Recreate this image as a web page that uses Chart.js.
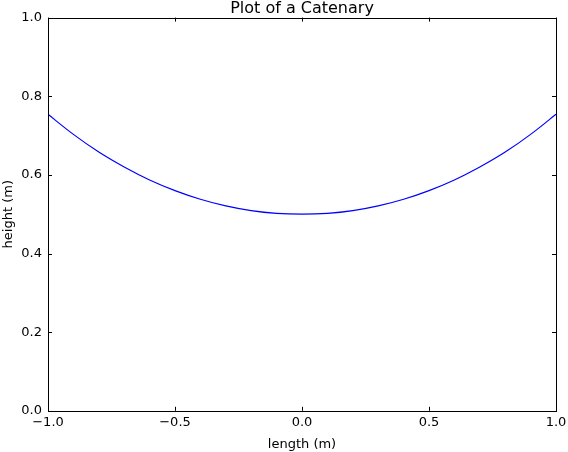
<!DOCTYPE html>
<html>
<head>
<meta charset="utf-8">
<script src="https://cdn.jsdelivr.net/npm/chart.js@4"></script>
<style>
  html, body { margin: 0; padding: 0; background: #fff; }
  #wrap { width: 568px; height: 452px; }
</style>
</head>
<body>
<div id="wrap"><canvas id="catenary-chart"></canvas></div>
<script>
// values
const lengthValues = [-1.0, -0.9, -0.8, -0.7, -0.6, -0.5, -0.4, -0.3, -0.2, -0.1, 0.0,
  0.1, 0.2, 0.3, 0.4, 0.5, 0.6, 0.7, 0.8, 0.9, 1.0];
const heightValues = [0.754, 0.703, 0.658, 0.620, 0.587, 0.560, 0.538, 0.521, 0.509, 0.502, 0.500,
  0.502, 0.509, 0.521, 0.538, 0.560, 0.587, 0.620, 0.658, 0.703, 0.754];
const xTicks = [-1.0, -0.5, 0.0, 0.5, 1.0];
const yTicks = [0.0, 0.2, 0.4, 0.6, 0.8, 1.0];

const fontFamily = "'DejaVu Sans', sans-serif";
const fmt = (v) => v.toFixed(1).replace("-", "\u2212");

// matplotlib style frame with ticks pointing inward
const framePlugin = {
  id: "frame",
  afterDraw(chart) {
    const ctx = chart.ctx;
    const a = chart.chartArea;
    const xs = chart.scales.x;
    const ys = chart.scales.y;
    const len = 4;
    ctx.save();
    ctx.strokeStyle = "#000";
    ctx.lineWidth = 1;
    ctx.beginPath();
    xTicks.forEach((t) => {
      const px = Math.round(xs.getPixelForValue(t)) + 0.5;
      ctx.moveTo(px, a.bottom);
      ctx.lineTo(px, a.bottom - len);
      ctx.moveTo(px, a.top);
      ctx.lineTo(px, a.top + len);
    });
    yTicks.forEach((t) => {
      const py = Math.round(ys.getPixelForValue(t)) + 0.5;
      ctx.moveTo(a.left, py);
      ctx.lineTo(a.left + len, py);
      ctx.moveTo(a.right, py);
      ctx.lineTo(a.right - len, py);
    });
    ctx.stroke();
    ctx.strokeRect(Math.round(a.left) + 0.5, Math.round(a.top) + 0.5,
      Math.round(a.right - a.left), Math.round(a.bottom - a.top));
    ctx.restore();
  },
};

const catenaryChart = new Chart(document.getElementById("catenary-chart"), {
  type: "line",
  data: {
    datasets: [
      {
        label: "catenary",
        data: lengthValues.map((x, i) => ({ x: x, y: heightValues[i] })),
        borderColor: "#0000ff",
        borderWidth: 1.2,
        pointRadius: 0,
        fill: false,
        cubicInterpolationMode: "monotone",
      },
    ],
  },
  options: {
    responsive: true,
    maintainAspectRatio: false,
    animation: false,
    layout: { padding: 0 },
    scales: {
      x: {
        type: "linear",
        min: -1,
        max: 1,
        afterBuildTicks(scale) {
          scale.ticks = xTicks.map((v) => ({ value: v }));
        },
        afterFit(scale) {
          scale.paddingRight = 12;
        },
        grid: { display: false, drawTicks: false },
        border: { display: false },
        ticks: {
          color: "#000",
          font: { family: fontFamily, size: 13 },
          padding: 4,
          maxRotation: 0,
          callback: (v) => fmt(v),
        },
        title: {
          display: true,
          text: "length (m)",
          color: "#000",
          font: { family: fontFamily, size: 13 },
          padding: { top: 2, bottom: 0 },
        },
      },
      // top axis only carries the title, so it is centred over the plot like matplotlib
      xTop: {
        type: "linear",
        position: "top",
        min: -1,
        max: 1,
        grid: { display: false, drawTicks: false },
        border: { display: false },
        ticks: { display: false },
        title: {
          display: true,
          text: "Plot of a Catenary",
          color: "#000",
          font: { family: fontFamily, size: 16, lineHeight: 1.1 },
          padding: { top: 0, bottom: 0 },
        },
      },
      y: {
        min: 0,
        max: 1,
        afterBuildTicks(scale) {
          scale.ticks = yTicks.map((v) => ({ value: v }));
        },
        afterFit(scale) {
          scale.width = 48;
        },
        grid: { display: false, drawTicks: false },
        border: { display: false },
        ticks: {
          color: "#000",
          font: { family: fontFamily, size: 13 },
          padding: 6,
          callback: (v) => fmt(v),
        },
        title: {
          display: true,
          text: "height (m)",
          color: "#000",
          font: { family: fontFamily, size: 13 },
          padding: { top: 1, bottom: 0 },
        },
      },
    },
    plugins: {
      legend: { display: false },
      tooltip: { enabled: false },
      title: { display: false },
    },
  },
  plugins: [framePlugin],
});
</script>
</body>
</html>
